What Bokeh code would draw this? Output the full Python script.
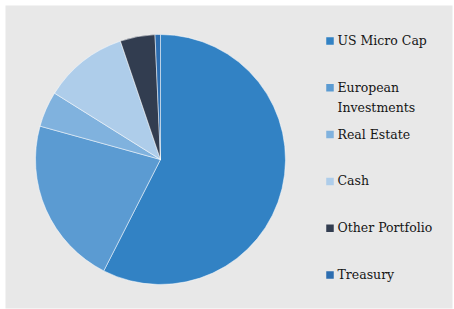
import math
from bokeh.plotting import figure
from bokeh.models import Range1d, ColumnDataSource
from bokeh.core.properties import value
from bokeh.embed import file_html
from bokeh.resources import INLINE

categories = ["US Micro Cap", "European\nInvestments", "Real Estate", "Cash", "Other Portfolio", "Treasury"]
values = [57.5, 21.8, 4.6, 10.9, 4.5, 0.7]
colors = ["#3282C4", "#5B9BD2", "#80B2DE", "#AECDEA", "#323D50", "#2C6DB0"]

W, H = 454, 309
BL, BT, BR, BB = 5, 5, 2, 1
FW, FH = W - BL - BR, H - BT - BB
p = figure(width=W, height=H, output_backend="svg", toolbar_location=None,
           x_range=Range1d(0, FW), y_range=Range1d(0, FH),
           min_border_left=BL, min_border_top=BT, min_border_right=BR, min_border_bottom=BB,
           background_fill_color="#E8E8E8", border_fill_color="white")
p.axis.visible = False
p.grid.visible = False
p.outline_line_color = None

total = sum(values)
starts, ends = [], []
acc = 0.0
for v in values:
    # clockwise from 12 o'clock
    a0 = math.pi / 2 - 2 * math.pi * acc / total
    acc += v
    a1 = math.pi / 2 - 2 * math.pi * acc / total
    starts.append(a1)
    ends.append(a0)

src = ColumnDataSource(dict(cat=categories, val=values, color=colors, start=starts, end=ends))
cx, cy, r = 155, 149, 125
p.wedge(x=cx, y=cy, radius=r, start_angle="start", end_angle="end",
        fill_color="color", line_color="white", line_width=0.5, source=src)

# legend (manual, so that the two-line label aligns on its first line)
lx, ly0, step = 324.5, 267.5, 46.8
ly = [ly0 - i * step for i in range(len(categories))]
lsrc = ColumnDataSource(dict(x=[lx] * len(categories), tx=[lx + 7.5] * len(categories),
                             y=ly, ty=[v + 8 for v in ly], text=categories, color=colors))
p.rect(x="x", y="y", width=7.5, height=7.5, width_units="screen", height_units="screen",
       fill_color="color", line_color=None, source=lsrc)
p.text(x="tx", y="ty", text="text", source=lsrc, text_font=value("DejaVu Serif"),
       text_font_size="12.5px", text_color="#151515", text_baseline="top",
       text_align="left", text_line_height=1.35)

open("out.html", "w").write(file_html(p, INLINE))
